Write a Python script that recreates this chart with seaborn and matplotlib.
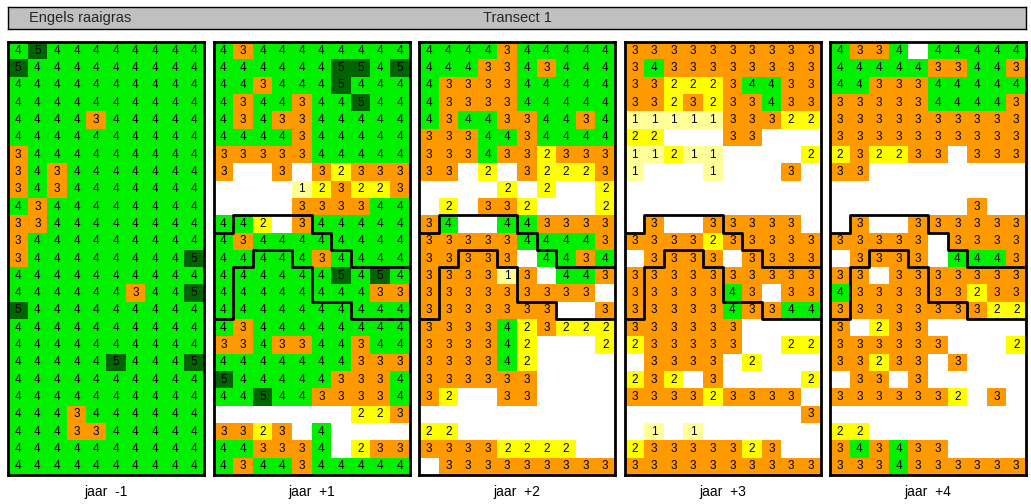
import numpy as np
import pandas as pd
import seaborn as sns
import matplotlib.pyplot as plt
from matplotlib.colors import ListedColormap

soort = 'Engels raaigras'
transect = 'Transect 1'
jaren = ['jaar  -1', 'jaar  +1', 'jaar  +2', 'jaar  +3', 'jaar  +4']

# score per cel, '.' = leeg
jaar_min1 = ["4544444444", "5444444444", "4444444444", "4444444444", "4444344444",
             "4444444444", "3444444444", "3434444444", "3434444444", "4344444444",
             "3344444444", "3444444444", "3444444445", "4444444444", "4444443445",
             "5444444444", "4444444444", "4444444444", "4444454445", "4444444444",
             "4444444444", "4443444444", "4443344444", "4444444444", "4444444444"]
jaar_1 = ["4344444444", "4444445545", "4434445444", "4344344544", "4343344444",
          "4444344444", "3333344444", "3..3.32333", "....123223", "....333344",
          "442.344444", "4344444444", "4444434444", "4444445454", "4444444433",
          "4444444444", "4344444444", "3343344344", "4444444333", "5444443334",
          "4454433334", ".......223", "3323.4....", "443334.233", "4344344444"]
jaar_2 = ["4444344444", "4443343444", "4333344444", "4333344444", "4344334434",
          "3334434444", "3334332333", "33.2.32223", "....2.2..2", ".2.332...2",
          "34..443333", "3333344443", "33333.4434", "333313.443", "333333333.",
          "3333333..3", "3333423222", "333342...2", "333342....", "333333....",
          "32..33....", "..........", "22........", "33332222..", ".333333333"]
jaar_3 = ["3333333333", "3433333333", "3322234433", "3323233433", "1111133322",
          "22...33...", "11211....2", "1...1...3.", "..........", "..........",
          ".3..33333.", "3333233333", ".3333.3333", "3333333333", "3333343.33",
          "3333343344", "333333....", "233333..22", ".3333.2...", "232.3....2",
          "333323333.", ".........3", ".1.1......", "23333323..", "3333333333"]
jaar_4 = ["4334.44444", "4444433443", "4433344444", "3333344443", "3333333333",
          "3333333333", "232233.333", "33........", "..........", ".......3..",
          ".3..333333", "33333.3333", ".3333.4443", "33.3333333", "4333333233",
          "3333333322", "3.233.....", "333333...2", "33233.3...", ".33.3.....",
          "3333332.3.", "..........", "22........", "343433....", "3334333333"]

# grenslijnen (rij-index per kolom), vanaf jaar +1
grens_boven = [11, 10, 10, 10, 10, 11, 12, 13, 13, 13]
grens_onder = [16, 13, 12, 12, 13, 15, 15, 16, 16, 16]

kleuren = ['#ffff99', '#ffff00', '#ff9900', '#00f000', '#006400']


def naar_df(rijen):
    return pd.DataFrame([[np.nan if c == '.' else float(c) for c in r] for r in rijen])


sns.set_theme(style='white')
plt.rcParams['font.family'] = ['Liberation Sans', 'DejaVu Sans']

W, H = 1031, 504
fig = plt.figure(figsize=(W / 100, H / 100), dpi=100)
cmap = ListedColormap(kleuren)

panelen = [jaar_min1, jaar_1, jaar_2, jaar_3, jaar_4]
for i, (naam, rijen) in enumerate(zip(jaren, panelen)):
    ax = fig.add_axes([(8 + i * 205.5) / W, 29 / H, 196 / W, 433 / H])
    sns.heatmap(naar_df(rijen), cmap=cmap, vmin=0.5, vmax=5.5, annot=True, fmt='.0f',
                annot_kws={'color': 'black', 'fontsize': 8.5}, cbar=False,
                xticklabels=False, yticklabels=False, ax=ax)
    if i > 0:
        x = np.arange(11)
        ax.step(x, grens_boven + [grens_boven[-1]], where='post', color='black', lw=2)
        ax.step(x, grens_onder + [grens_onder[-1]], where='post', color='black', lw=2)
    for s in ax.spines.values():
        s.set_visible(True)
        s.set_color('black')
        s.set_linewidth(2)
    ax.set_xlabel(naam, fontsize=10, labelpad=7, color='black')

# titelbalk
axt = fig.add_axes([8 / W, (H - 29) / H, 1018 / W, 22 / H])
axt.set_facecolor('#c0c0c0')
axt.set_xticks([])
axt.set_yticks([])
for s in axt.spines.values():
    s.set_visible(True)
    s.set_color('black')
    s.set_linewidth(1)
axt.text(0.021, 0.5, soort, transform=axt.transAxes, va='center', ha='left', fontsize=10.5)
axt.text(0.5, 0.5, transect, transform=axt.transAxes, va='center', ha='center', fontsize=10.5)

fig.savefig('out.png', dpi=100)
